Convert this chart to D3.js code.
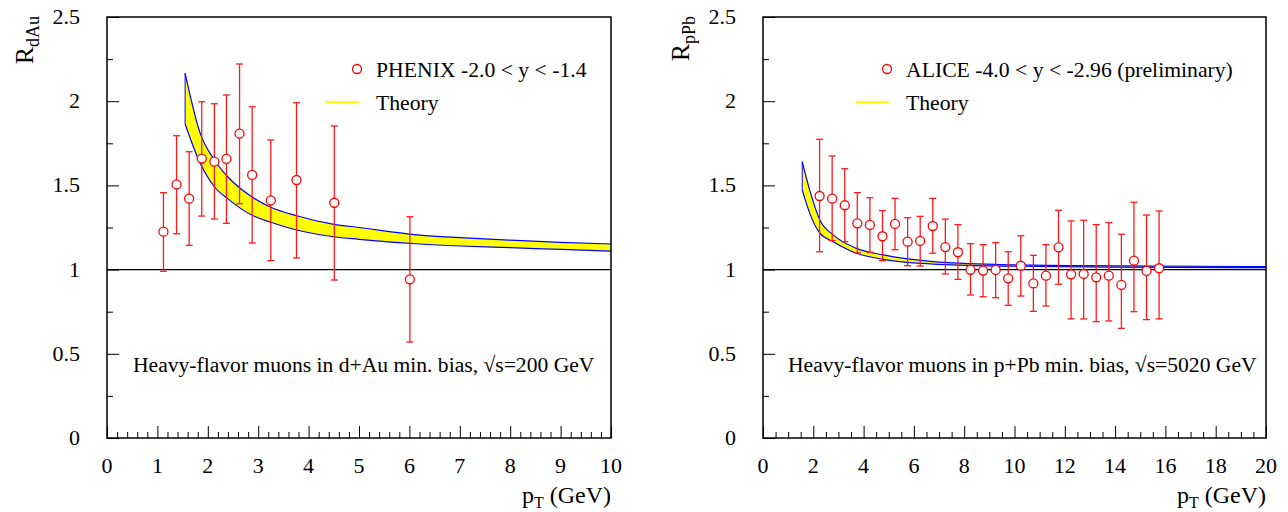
<!DOCTYPE html>
<html><head><meta charset="utf-8">
<script src="https://cdn.jsdelivr.net/npm/d3@7"></script>
<style>
html,body{margin:0;padding:0;background:#fff;}
text{font-family:"Liberation Serif","Times New Roman",serif;fill:#000;}
</style></head>
<body><svg id="chart" width="1288" height="512"></svg>
<script>
// ---------- data ----------
const phenixPt = [1.12,1.38,1.63,1.88,2.13,2.37,2.63,2.88,3.25,3.76,4.51,6.01];
const phenixR  = [1.225,1.506,1.421,1.659,1.641,1.657,1.807,1.562,1.411,1.532,1.397,0.942];
const phenixHi = [1.457,1.795,1.70,1.997,1.985,2.037,2.221,1.967,1.77,1.991,1.853,1.314];
const phenixLo = [0.99,1.213,1.144,1.318,1.30,1.275,1.391,1.158,1.053,1.069,0.938,0.57];

const alicePt = [2.25,2.75,3.25,3.75,4.25,4.75,5.25,5.75,6.25,6.75,7.25,7.75,8.25,8.75,9.25,9.75,10.25,10.75,11.25,11.75,12.25,12.75,13.25,13.75,14.25,14.75,15.25,15.75];
const aliceR  = [1.437,1.421,1.382,1.275,1.265,1.198,1.271,1.166,1.17,1.259,1.134,1.103,0.999,0.994,0.998,0.948,1.023,0.918,0.964,1.132,0.972,0.974,0.954,0.964,0.909,1.053,0.992,1.008];
const aliceHi = [1.774,1.675,1.599,1.457,1.427,1.35,1.423,1.308,1.316,1.423,1.30,1.267,1.154,1.148,1.16,1.106,1.201,1.085,1.148,1.352,1.289,1.293,1.267,1.279,1.21,1.40,1.324,1.348];
const aliceLo = [1.106,1.172,1.166,1.10,1.103,1.053,1.118,1.023,1.021,1.097,0.974,0.942,0.849,0.839,0.833,0.788,0.843,0.752,0.784,0.913,0.707,0.707,0.691,0.695,0.651,0.75,0.703,0.707];

const dAuTheoryPt = [1.55,1.85,2.13,2.4,2.87,3.25,3.76,4.5,5,6.2,7,8,9,10];
const dAuTheoryHi = [2.166,1.809,1.651,1.55,1.433,1.37,1.32,1.269,1.25,1.205,1.19,1.175,1.162,1.152];
const dAuTheoryLo = [1.865,1.631,1.492,1.42,1.324,1.281,1.235,1.195,1.18,1.152,1.14,1.13,1.12,1.11];

const pPbTheoryPt = [1.56,1.86,2.26,2.79,3.72,4.78,6.77,9.42,14,20];
const pPbTheoryHi = [1.641,1.47,1.295,1.206,1.126,1.087,1.047,1.03,1.022,1.018];
const pPbTheoryLo = [1.473,1.334,1.216,1.166,1.097,1.061,1.033,1.021,1.015,1.012];

const yTicks = [0,0.5,1,1.5,2,2.5];
const yTickLabels = ["0","0.5","1","1.5","2","2.5"];
const xTicksLeft = [0,1,2,3,4,5,6,7,8,9,10];
const xTicksRight = [0,2,4,6,8,10,12,14,16,18,20];

const svg = d3.select("#chart");

function panel(cfg){
  const g = svg.append("g");
  const x = d3.scaleLinear().domain([0,cfg.xmax]).range([cfg.x0,cfg.x1]);
  const y = d3.scaleLinear().domain([0,2.5]).range([438,17]);

  // theory band
  const band = cfg.thPt.map((p,i)=>({x:p,lo:cfg.thLo[i],hi:cfg.thHi[i]}));
  g.append("path").datum(band)
    .attr("d", d3.area().x(d=>x(d.x)).y0(d=>y(d.lo)).y1(d=>y(d.hi)).curve(d3.curveMonotoneX))
    .attr("fill","#ffff00").attr("stroke","none");
  g.append("path").datum(band)
    .attr("d", d3.line().x(d=>x(d.x)).y(d=>y(d.hi)).curve(d3.curveMonotoneX))
    .attr("fill","none").attr("stroke","#0000ff").attr("stroke-width",1.2);
  g.append("path").datum(band)
    .attr("d", d3.line().x(d=>x(d.x)).y(d=>y(d.lo)).curve(d3.curveMonotoneX))
    .attr("fill","none").attr("stroke","#0000ff").attr("stroke-width",1.2);
  g.append("line").attr("x1",x(band[0].x)).attr("x2",x(band[0].x))
    .attr("y1",y(band[0].lo)).attr("y2",y(band[0].hi))
    .attr("stroke","#0000ff").attr("stroke-width",1);

  // unity line
  g.append("line").attr("x1",cfg.x0).attr("x2",cfg.x1).attr("y1",y(1)).attr("y2",y(1))
    .attr("stroke","#000").attr("stroke-width",1.2);

  // data
  const pts = cfg.pt.map((p,i)=>({x:p,r:cfg.r[i],hi:cfg.hi[i],lo:cfg.lo[i]}));
  const eg = g.append("g").attr("stroke","#ff1a1a").attr("stroke-width",1.3);
  eg.selectAll(".v").data(pts).join("line")
    .attr("x1",d=>x(d.x)).attr("x2",d=>x(d.x)).attr("y1",d=>y(d.hi)).attr("y2",d=>y(d.lo));
  eg.selectAll(".t").data(pts).join("line")
    .attr("x1",d=>x(d.x)-3.5).attr("x2",d=>x(d.x)+3.5).attr("y1",d=>y(d.hi)).attr("y2",d=>y(d.hi));
  eg.selectAll(".b").data(pts).join("line")
    .attr("x1",d=>x(d.x)-3.5).attr("x2",d=>x(d.x)+3.5).attr("y1",d=>y(d.lo)).attr("y2",d=>y(d.lo));
  g.selectAll("circle.pt").data(pts).join("circle")
    .attr("cx",d=>x(d.x)).attr("cy",d=>y(d.r)).attr("r",4.5)
    .attr("fill","#fff").attr("stroke","#ff0000").attr("stroke-width",1.3);

  // frame
  g.append("rect").attr("x",cfg.x0).attr("y",17).attr("width",cfg.x1-cfg.x0).attr("height",421)
    .attr("fill","none").attr("stroke","#000").attr("stroke-width",1.5);

  // y axis ticks (inside)
  const yAx = d3.axisRight(y).tickValues(yTicks).tickSize(12).tickFormat("");
  g.append("g").attr("transform",`translate(${cfg.x0},0)`).call(yAx)
    .call(s=>s.select(".domain").remove());
  const yMinor = d3.axisRight(y).tickValues(d3.range(0.25,2.5,0.5)).tickSize(6).tickFormat("");
  g.append("g").attr("transform",`translate(${cfg.x0},0)`).call(yMinor)
    .call(s=>s.select(".domain").remove());
  g.selectAll(".ylab").data(yTicks).join("text")
    .attr("x",cfg.x0-27).attr("y",d=>y(d)+7).attr("text-anchor","end")
    .attr("font-size",22).text((d,i)=>yTickLabels[i]);

  // x axis ticks (inside, upward)
  const xAx = d3.axisTop(x).tickValues(cfg.xTicks).tickSize(12).tickFormat("");
  g.append("g").attr("transform","translate(0,438)").call(xAx)
    .call(s=>s.select(".domain").remove());
  const xMinor = d3.axisTop(x).tickValues(d3.range(0,cfg.xmax+1e-9,cfg.minorStep).filter(v=>cfg.xTicks.indexOf(+v.toFixed(6))<0)).tickSize(6).tickFormat("");
  g.append("g").attr("transform","translate(0,438)").call(xMinor)
    .call(s=>s.select(".domain").remove());
  g.selectAll("g.tick line").attr("stroke","#000").attr("stroke-width",1);
  g.selectAll(".xlab").data(cfg.xTicks).join("text")
    .attr("x",d=>x(d)).attr("y",473).attr("text-anchor","middle")
    .attr("font-size",22).text(d=>d);

  // axis titles
  const xt = g.append("text").attr("x",cfg.x1).attr("y",503).attr("text-anchor","end").attr("font-size",24);
  xt.append("tspan").text("p");
  xt.append("tspan").attr("font-size",16).attr("dy",5).text("T");
  xt.append("tspan").attr("dy",-5).text(" (GeV)");
  const yt = g.append("text").attr("transform",`translate(${cfg.x0-74},16) rotate(-90)`)
    .attr("text-anchor","end").attr("font-size",26);
  yt.append("tspan").text("R");
  yt.append("tspan").attr("font-size",18).attr("dy",6).text(cfg.sub);

  // legend
  const lx = cfg.legX;
  g.append("circle").attr("cx",lx-19).attr("cy",69).attr("r",4.5)
    .attr("fill","#fff").attr("stroke","#ff0000").attr("stroke-width",1.3);
  g.append("text").attr("x",lx).attr("y",77).attr("font-size",21.7).text(cfg.legText);
  g.append("line").attr("x1",lx-50).attr("x2",lx-17).attr("y1",102).attr("y2",102)
    .attr("stroke","#ffff00").attr("stroke-width",2);
  g.append("text").attr("x",lx).attr("y",110).attr("font-size",21.7).text("Theory");

  // annotation
  g.append("text").attr("x",cfg.noteX).attr("y",372).attr("font-size",21.6).text(cfg.note);
}

panel({x0:107,x1:611,xmax:10,xTicks:xTicksLeft,minorStep:0.2,
  pt:phenixPt,r:phenixR,hi:phenixHi,lo:phenixLo,
  thPt:dAuTheoryPt,thHi:dAuTheoryHi,thLo:dAuTheoryLo,
  sub:"dAu",legX:376,legText:"PHENIX -2.0 < y < -1.4",
  noteX:133,note:"Heavy-flavor muons in d+Au min. bias, \u221As=200 GeV"});

panel({x0:763,x1:1266,xmax:20,xTicks:xTicksRight,minorStep:0.5,
  pt:alicePt,r:aliceR,hi:aliceHi,lo:aliceLo,
  thPt:pPbTheoryPt,thHi:pPbTheoryHi,thLo:pPbTheoryLo,
  sub:"pPb",legX:906,legText:"ALICE -4.0 < y < -2.96 (preliminary)",
  noteX:788,note:"Heavy-flavor muons in p+Pb min. bias, \u221As=5020 GeV"});
</script></body></html>
